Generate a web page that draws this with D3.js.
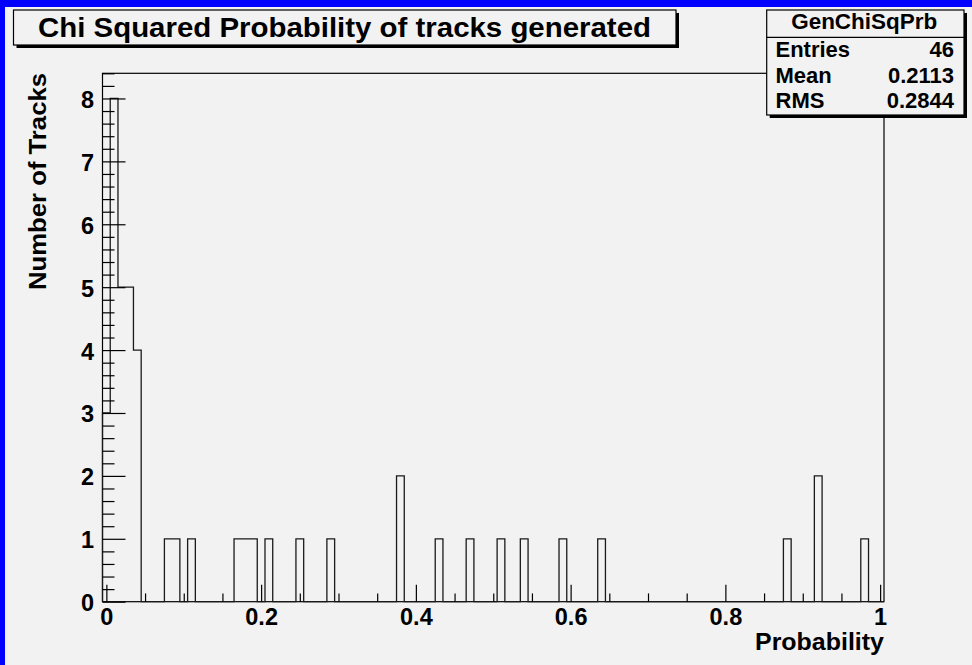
<!DOCTYPE html>
<html>
<head>
<meta charset="utf-8">
<script src="https://cdn.jsdelivr.net/npm/d3@7"></script>
<style>
  html, body { margin: 0; padding: 0; background: #f2f2f2; }
  svg { display: block; }
  text { font-family: "Liberation Sans", Arial, Helvetica, sans-serif; font-weight: bold; fill: #000; }
</style>
</head>
<body>
<script>
// ---- data ----
const histTitle = "Chi Squared Probability of tracks generated";
const statsName = "GenChiSqPrb";
const statsLabels = ["Entries", "Mean", "RMS"];
const statsValues = ["46", "0.2113", "0.2844"];
const xAxisTitle = "Probability";
const yAxisTitle = "Number of Tracks";

// 101 bins of width 0.01 centred on 0.00, 0.01, ..., 1.00
const binLow = -0.005;
const binWidth = 0.01;
const binCounts = [
  3, 8, 5, 5, 4, 0, 0, 0, 1, 1,
  0, 1, 0, 0, 0, 0, 0, 1, 1, 1,
  0, 1, 0, 0, 0, 1, 0, 0, 0, 1,
  0, 0, 0, 0, 0, 0, 0, 0, 2, 0,
  0, 0, 0, 1, 0, 0, 0, 1, 0, 0,
  0, 1, 0, 0, 1, 0, 0, 0, 0, 1,
  0, 0, 0, 0, 1, 0, 0, 0, 0, 0,
  0, 0, 0, 0, 0, 0, 0, 0, 0, 0,
  0, 0, 0, 0, 0, 0, 0, 0, 1, 0,
  0, 0, 2, 0, 0, 0, 0, 0, 1, 0,
  0
];
const xMajorTicks = [0, 0.2, 0.4, 0.6, 0.8, 1];
const xTickLabels = ["0", "0.2", "0.4", "0.6", "0.8", "1"];
const yMajorTicks = [0, 1, 2, 3, 4, 5, 6, 7, 8];
const yTickLabels = ["0", "1", "2", "3", "4", "5", "6", "7", "8"];
const yMax = 8.4;

// ---- layout ----
const W = 972, H = 665;
const frame = { left: 102.5, right: 884, top: 73.3, bottom: 601.7 };

const svg = d3.select("body").append("svg").attr("width", W).attr("height", H);

// canvas background and blue border
svg.append("rect").attr("width", W).attr("height", H).attr("fill", "#f2f2f2");
svg.append("rect").attr("x", 0).attr("y", 0).attr("width", W).attr("height", 7).attr("fill", "#0000ff");
svg.append("rect").attr("x", 0).attr("y", 0).attr("width", 5).attr("height", H).attr("fill", "#0000ff");

const xMax = binLow + binWidth * binCounts.length;
const x = d3.scaleLinear().domain([binLow, xMax]).range([frame.left, frame.right]);
const y = d3.scaleLinear().domain([0, yMax]).range([frame.bottom, frame.top]);

// frame
svg.append("rect")
  .attr("x", frame.left).attr("y", frame.top)
  .attr("width", frame.right - frame.left).attr("height", frame.bottom - frame.top)
  .attr("fill", "none").attr("stroke", "#000").attr("stroke-width", 1.2);

// histogram outline
const pts = [[binLow, 0]];
binCounts.forEach((c, i) => {
  const lo = binLow + i * binWidth;
  pts.push([lo, c], [lo + binWidth, c]);
});
pts.push([xMax, 0]);
const line = d3.line().x(d => x(d[0])).y(d => y(d[1]));
svg.append("path").attr("d", line(pts))
  .attr("fill", "none").attr("stroke", "#1a1a1a").attr("stroke-width", 1.3);

// x axis
const xMinor = d3.range(0, 1.0001, 0.05).filter(v => !xMajorTicks.some(m => Math.abs(m - v) < 1e-6));
const gxMinor = svg.append("g").attr("transform", `translate(0,${frame.bottom})`)
  .call(d3.axisBottom(x).tickValues(xMinor).tickSize(-8.3).tickFormat(""));
const gx = svg.append("g").attr("transform", `translate(0,${frame.bottom})`)
  .call(d3.axisBottom(x).tickValues(xMajorTicks).tickSize(-17).tickPadding(7)
    .tickFormat((d, i) => xTickLabels[i]));

// y axis
const yMinor = d3.range(0, yMax + 0.0001, 0.2).filter(v => !yMajorTicks.some(m => Math.abs(m - v) < 1e-6));
const gyMinor = svg.append("g").attr("transform", `translate(${frame.left},0)`)
  .call(d3.axisLeft(y).tickValues(yMinor).tickSize(-12).tickFormat(""));
const gy = svg.append("g").attr("transform", `translate(${frame.left},0)`)
  .call(d3.axisLeft(y).tickValues(yMajorTicks).tickSize(-23).tickPadding(8.5)
    .tickFormat((d, i) => yTickLabels[i]));

[gxMinor, gx, gyMinor, gy].forEach(g => {
  g.select(".domain").remove();
  g.selectAll(".tick line").attr("stroke", "#000").attr("stroke-width", 1.2);
  g.selectAll("text").attr("font-size", 23.5).attr("font-family", null).attr("fill", "#000");
});
gy.selectAll("text").attr("dy", "0.38em");

// axis titles
svg.append("text").attr("x", frame.right).attr("y", 650)
  .attr("text-anchor", "end").attr("font-size", 24.5)
  .attr("textLength", 129).attr("lengthAdjust", "spacingAndGlyphs")
  .text(xAxisTitle);
svg.append("text")
  .attr("transform", "translate(46,290) rotate(-90)")
  .attr("x", 0).attr("y", 0).attr("font-size", 24)
  .attr("textLength", 217).attr("lengthAdjust", "spacingAndGlyphs")
  .text(yAxisTitle);

// title box with shadow
function paveBox(x0, y0, x1, y1) {
  svg.append("rect").attr("x", x0 + 3).attr("y", y0 + 3)
    .attr("width", x1 - x0).attr("height", y1 - y0).attr("fill", "#000");
  svg.append("rect").attr("x", x0).attr("y", y0)
    .attr("width", x1 - x0).attr("height", y1 - y0)
    .attr("fill", "#f2f2f2").attr("stroke", "#000").attr("stroke-width", 1.2);
}
paveBox(13.5, 10, 676, 45);
svg.append("text").attr("x", 38).attr("y", 36.5).attr("font-size", 28)
  .attr("textLength", 613).attr("lengthAdjust", "spacingAndGlyphs")
  .text(histTitle);

// stats box
paveBox(766.7, 10, 964, 115);
svg.append("line").attr("x1", 766.7).attr("x2", 964).attr("y1", 37.3).attr("y2", 37.3)
  .attr("stroke", "#000").attr("stroke-width", 1.2);
svg.append("text").attr("x", 864.2).attr("y", 28.5).attr("text-anchor", "middle")
  .attr("font-size", 21.5).attr("textLength", 146).attr("lengthAdjust", "spacingAndGlyphs")
  .text(statsName);
const rowY = [56.7, 83.3, 108.3];
statsLabels.forEach((s, i) => {
  svg.append("text").attr("x", 775.5).attr("y", rowY[i]).attr("font-size", 22).text(s);
  svg.append("text").attr("x", 954).attr("y", rowY[i]).attr("text-anchor", "end")
    .attr("font-size", 22).text(statsValues[i]);
});
</script>
</body>
</html>
